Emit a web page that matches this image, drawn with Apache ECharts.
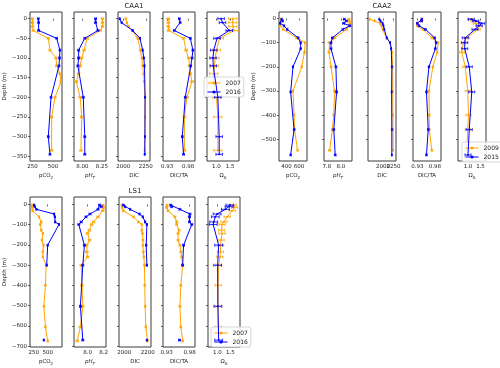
<!DOCTYPE html>
<html>
<head>
<meta charset="utf-8">
<script src="https://cdn.jsdelivr.net/npm/echarts@6/dist/echarts.min.js"></script>
<style>
  html, body { margin: 0; padding: 0; background: #fff; }
  #main { width: 500px; height: 368px; }
</style>
</head>
<body>
<div id="main"></div>
<script>
// CAA1 (2007 / 2016)
var caa1Dep07   = [0, -10, -20, -30, -50, -80, -100, -120, -140, -160, -200, -250, -335];
var caa1Pco207  = [248, 250, 252, 258, 443, 463, 537, 545, 585, 598, 525, 484, 484];
var caa1Ph07    = [8.26, 8.26, 8.26, 8.23, 8.06, 8.02, 7.99, 7.97, 7.95, 7.92, 7.97, 7.99, 7.98];
var caa1Dic07   = [2029, 2040, 2060, 2100, 2160, 2190, 2205, 2215, 2225, 2232, 2240, 2240, 2238];
var caa1Dicta07 = [0.933, 0.933, 0.933, 0.934, 0.969, 0.975, 0.981, 0.983, 0.985, 0.989, 0.977, 0.971, 0.971];
var caa1Om07    = [1.60, 1.60, 1.60, 1.65, 1.11, 1.00, 0.95, 0.93, 0.90, 0.88, 1.00, 1.05, 1.05];

var caa1Dep16   = [0, -10, -30, -50, -80, -100, -120, -200, -300, -345];
var caa1Pco216  = [321, 325, 325, 545, 585, 580, 573, 476, 443, 463];
var caa1Ph16    = [8.17, 8.17, 8.20, 8.03, 7.95, 7.95, 7.94, 8.01, 8.03, 8.03];
var caa1Dic16   = [1962, 1983, 2105, 2185, 2215, 2228, 2235, 2242, 2240, 2238];
var caa1Dicta16 = [0.959, 0.961, 0.947, 0.985, 0.991, 0.989, 0.986, 0.973, 0.966, 0.969];
var caa1Om16    = [1.17, 1.22, 1.47, 1.02, 0.90, 0.87, 0.88, 1.05, 1.10, 1.10];

// CAA2 (2009 / 2015)
var caa2Dep09   = [-3, -10, -20, -30, -45, -80, -100, -140, -200, -300, -400, -460, -546];
var caa2Pco209  = [295, 297, 297, 300, 350, 560, 700, 690, 645, 505, 522, 530, 578];
var caa2Ph09    = [8.115, 8.12, 8.13, 8.12, 8.08, 7.91, 7.84, 7.83, 7.86, 7.91, 7.90, 7.88, 7.84];
var caa2Dic09   = [1680, 1800, 1930, 1960, 1990, 2080, 2170, 2215, 2230, 2232, 2235, 2238, 2240];
var caa2Dicta09 = [0.943, 0.942, 0.931, 0.930, 0.946, 0.971, 0.989, 0.986, 0.974, 0.963, 0.964, 0.964, 0.971];
var caa2Om09    = [1.09, 1.22, 1.31, 1.42, 1.39, 0.95, 0.82, 0.75, 0.89, 0.99, 1.02, 0.99, 0.95];

var caa2Dep15   = [-3, -10, -20, -30, -45, -80, -100, -125, -200, -304, -460, -565];
var caa2Pco215  = [322, 338, 297, 360, 412, 589, 628, 628, 505, 467, 522, 467];
var caa2Ph15    = [8.05, 8.08, 8.04, 8.13, 8.03, 7.88, 7.86, 7.86, 7.93, 7.94, 7.90, 7.92];
var caa2Dic15   = [1910, 1940, 1990, 2010, 2030, 2090, 2170, 2195, 2210, 2205, 2210, 2210];
var caa2Dicta15 = [0.943, 0.942, 0.930, 0.935, 0.953, 0.979, 0.983, 0.981, 0.963, 0.956, 0.961, 0.956];
var caa2Om15    = [1.13, 1.31, 1.55, 1.45, 1.28, 0.89, 0.87, 0.87, 1.05, 1.15, 1.05, 1.00];

// LS1 (2007 / 2016)
var ls1Dep07   = [-3, -15, -31, -61, -86, -99, -127, -143, -176, -201, -234, -259, -300, -399, -503, -605, -674];
var ls1Pco207  = [220, 220, 227, 343, 384, 367, 384, 413, 396, 425, 413, 413, 472, 460, 431, 460, 500];
var ls1Ph07    = [8.19, 8.20, 8.19, 8.13, 8.075, 8.05, 8.02, 8.00, 8.025, 7.99, 7.99, 8.00, 7.92, 7.93, 7.94, 7.91, 7.87];
var ls1Dic07   = [1979, 1982, 1992, 2078, 2121, 2150, 2150, 2155, 2159, 2159, 2163, 2167, 2172, 2175, 2178, 2184, 2198];
var ls1Dicta07 = [0.931, 0.930, 0.933, 0.948, 0.952, 0.952, 0.957, 0.955, 0.955, 0.959, 0.961, 0.963, 0.965, 0.961, 0.959, 0.961, 0.965];
var ls1Om07    = [1.61, 1.66, 1.57, 1.38, 1.25, 1.18, 1.16, 1.18, 1.14, 1.12, 1.12, 1.10, 1.05, 1.03, 1.03, 1.03, 1.03];

var ls1Dep16   = [-3, -11, -24, -47, -61, -86, -99, -201, -300, -503, -670];
var ls1Pco216  = [255, 267, 297, 617, 630, 635, 705, 500, 483, null, 430];
var ls1Ph16    = [8.15, 8.17, 8.13, 8.03, 7.98, 7.92, 7.89, 7.96, 7.94, 7.91, 7.94];
var ls1Dic16   = [1992, 2007, 2050, 2130, 2158, 2178, 2193, 2187, 2193, null, 2193];
var ls1Dicta16 = [0.939, 0.941, 0.959, 0.981, 0.980, 0.980, 0.985, 0.967, 0.965, null, 0.958];
var ls1Om16    = [1.48, 1.45, 1.31, 0.99, 0.92, 0.86, 0.84, 1.05, 1.01, 1.02, 1.05];

// error bar half widths: pCO2, pH, DIC, DIC/TA, Omega
var caa1Err07 = [12, 0.015, 6, 0.003, 0.15];
var caa1Err16 = [10, 0.012, 5, 0.002, 0.12];
var caa2Err09 = [10, 0.012, 6, 0.002, 0.10];
var caa2Err15 = [10, 0.012, 5, 0.002, 0.12];
var ls1Err07  = [12, 0.015, 6, 0.002, 0.12];
var ls1Err16  = [10, 0.012, 5, 0.002, 0.15];

// tick labels
var caa1XTicks = [['250', '500'], ['8.00', '8.25'], ['2000', '2250'], ['0.93', '0.98'], ['1.0', '1.5']];
var caa2XTicks = [['400', '600'], ['7.8', '8.0'], ['2000', '2250'], ['0.93', '0.98'], ['1.0', '1.5']];
var ls1XTicks  = [['250', '500'], ['8.0', '8.2'], ['2000', '2200'], ['0.93', '0.98'], ['1.0', '1.5']];
var caa1YTicks = [0, -50, -100, -150, -200, -250, -300, -350];
var caa2YTicks = [0, -100, -200, -300, -400, -500];
var ls1YTicks  = [0, -100, -200, -300, -400, -500, -600, -700];

var varNames = ['{n|pCO}{s|2}', '{i|pH}{si|T}', '{n|DIC}', '{n|DIC/TA}', '{n|Ω}{s|A}'];

var FONT = 'DejaVu Sans';
var TEXT = '#1a1a1a';
var FRAME = '#3a3a3a';
var COLORS = ['#ffa500', '#0000ff'];

var stations = [
  {
    name: 'CAA1', years: ['2007', '2016'],
    dep: [caa1Dep07, caa1Dep16],
    vals: [[caa1Pco207, caa1Ph07, caa1Dic07, caa1Dicta07, caa1Om07],
           [caa1Pco216, caa1Ph16, caa1Dic16, caa1Dicta16, caa1Om16]],
    err: [caa1Err07, caa1Err16],
    xTicks: caa1XTicks, yTicks: caa1YTicks,
    xMin: [220, 7.89, 1943, 0.9205, 0.65], xMax: [610, 8.305, 2296, 0.996, 1.83],
    yMin: -362, yMax: 17,
    lefts: [30, 74, 118, 163, 207], width: 32, top: 12, height: 149,
    legendPos: [204, 77], nameGap: 19
  },
  {
    name: 'CAA2', years: ['2009', '2015'],
    dep: [caa2Dep09, caa2Dep15],
    vals: [[caa2Pco209, caa2Ph09, caa2Dic09, caa2Dicta09, caa2Om09],
           [caa2Pco215, caa2Ph15, caa2Dic15, caa2Dicta15, caa2Om15]],
    err: [caa2Err09, caa2Err15],
    xTicks: caa2XTicks, yTicks: caa2YTicks,
    xMin: [280, 7.76, 1640, 0.918, 0.6], xMax: [730, 8.16, 2310, 0.997, 1.72],
    yMin: -590, yMax: 27,
    lefts: [279, 324, 368, 413, 458], width: 28, top: 12, height: 149,
    legendPos: [462, 142], nameGap: 20
  },
  {
    name: 'LS1', years: ['2007', '2016'],
    dep: [ls1Dep07, ls1Dep16],
    vals: [[ls1Pco207, ls1Ph07, ls1Dic07, ls1Dicta07, ls1Om07],
           [ls1Pco216, ls1Ph16, ls1Dic16, ls1Dicta16, ls1Om16]],
    err: [ls1Err07, ls1Err16],
    xTicks: ls1XTicks, yTicks: ls1YTicks,
    xMin: [180, 7.83, 1955, 0.922, 0.64], xMax: [760, 8.23, 2228, 0.992, 1.87],
    yMin: -704, yMax: 37,
    lefts: [30, 74, 119, 163, 208], width: 32, top: 197, height: 150,
    legendPos: [211, 327], nameGap: 19
  }
];

function fmtDepth(v) {
  return v < 0 ? '\u2212' + (-v) : String(v);
}

function fmtFixed(d) {
  return function (v) { return Number(v).toFixed(d); };
}

// horizontal error bar with caps, placed through the axes
function renderErr(params, api) {
  var x = api.value(0), y = api.value(1), e = api.value(2);
  var lo = api.coord([x - e, y]);
  var hi = api.coord([x + e, y]);
  var cap = 1.5;
  var style = { stroke: api.visual('color'), lineWidth: 0.8 };
  return {
    type: 'group',
    children: [
      { type: 'line', shape: { x1: lo[0], y1: lo[1], x2: hi[0], y2: hi[1] }, style: style },
      { type: 'line', shape: { x1: lo[0], y1: lo[1] - cap, x2: lo[0], y2: lo[1] + cap }, style: style },
      { type: 'line', shape: { x1: hi[0], y1: hi[1] - cap, x2: hi[0], y2: hi[1] + cap }, style: style }
    ]
  };
}

var nameRich = {
  n: { fontSize: 5.5, lineHeight: 9, color: TEXT, fontFamily: FONT },
  i: { fontSize: 5.5, lineHeight: 9, color: TEXT, fontFamily: FONT, fontStyle: 'italic' },
  s: { fontSize: 4, color: TEXT, fontFamily: FONT, verticalAlign: 'bottom' },
  si: { fontSize: 4, color: TEXT, fontFamily: FONT, fontStyle: 'italic', verticalAlign: 'bottom' }
};

var grids = [], xAxes = [], xAxes2 = [], yAxes = [], series = [], graphics = [], legends = [];

stations.forEach(function (st) {
  for (var p = 0; p < 5; p++) {
    var gi = grids.length;
    var labels = st.xTicks[p];
    var tickVals = labels.map(Number);
    var dec = (labels[0].split('.')[1] || '').length;

    grids.push({
      left: st.lefts[p], top: st.top, width: st.width, height: st.height,
      show: true, borderColor: FRAME, borderWidth: 1, backgroundColor: 'transparent',
      outerBoundsMode: 'none'
    });

    // main x axis: ticks, first label and the name
    xAxes.push({
      type: 'value', gridIndex: gi, min: st.xMin[p], max: st.xMax[p], position: 'bottom',
      axisLine: { show: false }, splitLine: { show: false },
      axisTick: { show: true, length: 2, lineStyle: { color: FRAME, width: 0.8 }, customValues: tickVals },
      axisLabel: {
        fontSize: 5.5, color: TEXT, fontFamily: FONT, margin: 3, hideOverlap: false,
        customValues: [tickVals[0]], formatter: fmtFixed(dec)
      },
      name: varNames[p], nameLocation: 'middle', nameGap: 10,
      nameTextStyle: { rich: nameRich }
    });
    // second label on its own axis so close labels are both kept
    xAxes2.push({
      type: 'value', gridIndex: gi, min: st.xMin[p], max: st.xMax[p], position: 'bottom',
      axisLine: { show: false }, splitLine: { show: false }, axisTick: { show: false },
      axisLabel: {
        fontSize: 5.5, color: TEXT, fontFamily: FONT, margin: 3, hideOverlap: false,
        customValues: [tickVals[1]], formatter: fmtFixed(dec)
      }
    });

    yAxes.push({
      type: 'value', gridIndex: gi, min: st.yMin, max: st.yMax,
      axisLine: { show: false }, splitLine: { show: false },
      axisTick: { show: true, length: 2, lineStyle: { color: FRAME, width: 0.8 }, customValues: st.yTicks },
      axisLabel: {
        show: p === 0, fontSize: 5.5, color: TEXT, fontFamily: FONT, margin: 3, hideOverlap: false,
        showMinLabel: true, showMaxLabel: true,
        customValues: st.yTicks, formatter: fmtDepth
      },
      name: p === 0 ? 'Depth (m)' : '', nameLocation: 'middle', nameGap: st.nameGap, nameRotate: 90,
      nameTextStyle: { fontSize: 5.5, color: TEXT, fontFamily: FONT }
    });

    for (var k = 0; k < 2; k++) {
      var lineData = [], errData = [];
      var deps = st.dep[k], vals = st.vals[k][p], e = st.err[k][p];
      for (var i = 0; i < deps.length; i++) {
        if (vals[i] == null) {
          lineData.push(['-', deps[i]]);
        } else {
          lineData.push([vals[i], deps[i]]);
          errData.push([vals[i], deps[i], e]);
        }
      }
      series.push({
        type: 'custom', name: st.years[k] + ' err', xAxisIndex: gi, yAxisIndex: gi,
        data: errData, renderItem: renderErr, encode: { x: 0, y: 1 },
        itemStyle: { color: COLORS[k] }, silent: true, clip: true, z: 2 + k * 2
      });
      series.push({
        type: 'line', name: st.years[k], xAxisIndex: gi, yAxisIndex: gi,
        data: lineData, symbol: 'circle', symbolSize: 2, showAllSymbol: true,
        lineStyle: { color: COLORS[k], width: 1 }, itemStyle: { color: COLORS[k] },
        emphasis: { disabled: true }, silent: true, z: 3 + k * 2
      });
    }
  }

  graphics.push({
    type: 'text', x: st.lefts[2] + st.width / 2, y: st.top - 5.5,
    style: { text: st.name, fontSize: 7, fill: TEXT, fontFamily: FONT, align: 'center', verticalAlign: 'middle' }
  });

  legends.push({
    orient: 'vertical', left: st.legendPos[0], top: st.legendPos[1],
    data: st.years, itemWidth: 13, itemHeight: 4, itemGap: 3, padding: [3, 3, 2, 3],
    lineStyle: { width: 1 },
    textStyle: { fontSize: 6, color: TEXT, fontFamily: FONT },
    backgroundColor: 'rgba(255,255,255,0.85)', borderColor: '#cccccc', borderWidth: 0.8, borderRadius: 2,
    selectedMode: false
  });
});

var myChart = echarts.init(document.getElementById('main'), null, { renderer: 'canvas' });
myChart.setOption({
  animation: false,
  backgroundColor: '#fff',
  textStyle: { fontFamily: FONT },
  grid: grids,
  xAxis: xAxes.concat(xAxes2),
  yAxis: yAxes,
  legend: legends,
  graphic: graphics,
  series: series
});
</script>
</body>
</html>
